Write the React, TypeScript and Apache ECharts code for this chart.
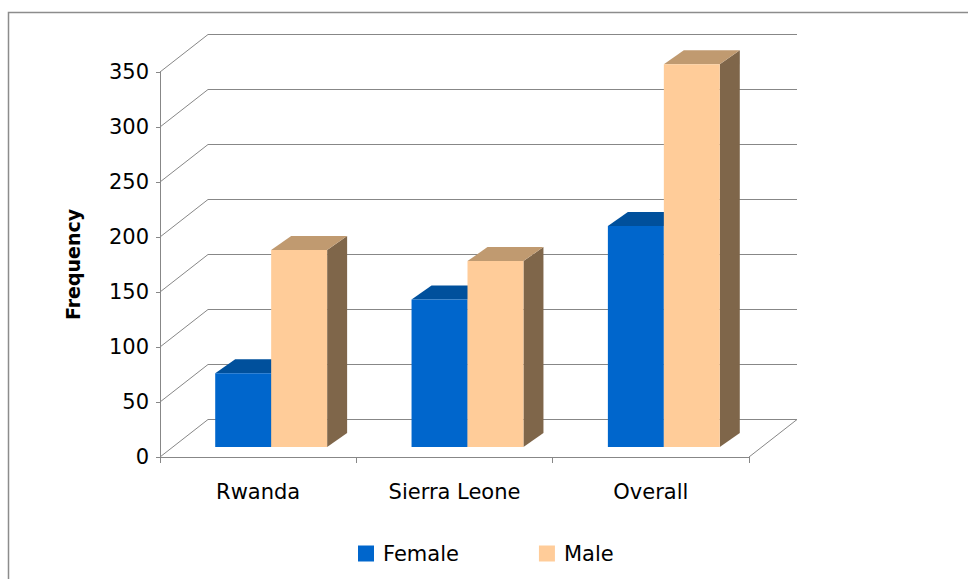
import React, { useEffect, useRef } from "react";
import * as echarts from "echarts";

const categories = ["Rwanda", "Sierra Leone", "Overall"];
const femaleValues = [67, 134, 201];
const maleValues = [179, 169, 348];
const seriesNames = ["Female", "Male"];
const yMin = 0;
const yMax = 350;
const yStep = 50;

// styling constants (pixels / colours)
const WALL_DX = 48;
const WALL_DY = -37.5;
const BAR_OFF_X = 13;
const BAR_OFF_Y = -10;
const BAR_DX = 20;
const BAR_DY = -14;
const BAR_FRACTION = 0.285;
const AXIS_COLOR = "#878787";
const FONT = "DejaVu Sans";

const femaleColors = { front: "#0066CC", top: "#00509C", side: "#003F7A" };
const maleColors = { front: "#FFCC99", top: "#C09A70", side: "#7F664A" };

function barRenderer(side: "left" | "right", colors: { front: string; top: string; side: string }) {
  return (params: any, api: any) => {
    const idx = api.value(0);
    const v = api.value(1);
    const base = api.coord([idx, 0]);
    const topPt = api.coord([idx, v]);
    const bw = api.size([1, 0])[0];
    const w = bw * BAR_FRACTION;
    const cx = base[0];
    const L = (side === "left" ? cx - w : cx) + BAR_OFF_X;
    const bottom = base[1] + BAR_OFF_Y;
    const top = topPt[1] + BAR_OFF_Y;
    return {
      type: "group",
      children: [
        {
          type: "polygon",
          shape: {
            points: [
              [L + w, top],
              [L + w + BAR_DX, top + BAR_DY],
              [L + w + BAR_DX, bottom + BAR_DY],
              [L + w, bottom],
            ],
          },
          style: { fill: colors.side },
        },
        {
          type: "polygon",
          shape: {
            points: [
              [L, top],
              [L + w, top],
              [L + w + BAR_DX, top + BAR_DY],
              [L + BAR_DX, top + BAR_DY],
            ],
          },
          style: { fill: colors.top },
        },
        {
          type: "rect",
          shape: { x: L, y: top, width: w, height: bottom - top },
          style: { fill: colors.front },
        },
      ],
    };
  };
}

export default function App() {
  const ref = useRef<HTMLDivElement>(null);
  useEffect(() => {
    document.body.style.margin = "0";
    if (!ref.current) return;
    const chart = echarts.init(ref.current, undefined, { renderer: "svg" });
    const option: any = {
      animation: false,
      backgroundColor: "#ffffff",
      textStyle: { fontFamily: FONT },
      graphic: [
        {
          type: "rect",
          shape: { x: 8.5, y: 12.5, width: 1200, height: 1200 },
          style: { fill: "none", stroke: "#8c8c8c", lineWidth: 1.5 },
          silent: true,
          z: 0,
        },
      ],
      grid: { left: 160, top: 72, width: 589, height: 385 },
      legend: {
        data: seriesNames,
        left: 358,
        top: 543,
        padding: 0,
        icon: "rect",
        itemWidth: 16,
        itemHeight: 16,
        itemGap: 80,
        textStyle: { fontFamily: FONT, fontSize: 21, color: "#000", padding: [0, 0, 0, 4] },
      },
      xAxis: {
        type: "category",
        data: categories,
        axisLine: { show: true, lineStyle: { color: AXIS_COLOR, width: 1 } },
        axisTick: { show: true, length: 6, lineStyle: { color: AXIS_COLOR } },
        axisLabel: { fontFamily: FONT, fontSize: 21, color: "#000", margin: 24 },
        splitLine: { show: false },
      },
      yAxis: {
        type: "value",
        min: yMin,
        max: yMax,
        interval: yStep,
        name: "Frequency",
        nameLocation: "middle",
        nameGap: 78,
        nameTextStyle: { fontFamily: FONT, fontSize: 19, fontWeight: "bold", color: "#000" },
        axisLine: { show: true, lineStyle: { color: AXIS_COLOR, width: 1 } },
        axisTick: { show: true, length: 4, lineStyle: { color: AXIS_COLOR } },
        axisLabel: { fontFamily: FONT, fontSize: 21, color: "#000", margin: 11 },
        splitLine: { show: false },
      },
      series: [
        {
          type: "custom",
          name: "walls",
          silent: true,
          z: 1,
          data: [[0, 0]],
          renderItem: (params: any, api: any) => {
            const cs = params.coordSys;
            const x0 = cs.x;
            const x1 = cs.x + cs.width;
            const children: any[] = [];
            for (let v = yMin; v <= yMax; v += yStep) {
              const y = api.coord([0, v])[1];
              children.push({
                type: "polyline",
                shape: {
                  points: [
                    [x0, y],
                    [x0 + WALL_DX, y + WALL_DY],
                    [x1 + WALL_DX, y + WALL_DY],
                  ],
                },
                style: { stroke: AXIS_COLOR, lineWidth: 1, fill: "none" },
              });
            }
            const y0 = api.coord([0, yMin])[1];
            children.push({
              type: "polyline",
              shape: { points: [[x1, y0], [x1 + WALL_DX, y0 + WALL_DY]] },
              style: { stroke: AXIS_COLOR, lineWidth: 1, fill: "none" },
            });
            return { type: "group", children };
          },
        },
        {
          type: "custom",
          name: seriesNames[0],
          z: 2,
          itemStyle: { color: femaleColors.front },
          data: femaleValues.map((v, i) => [i, v]),
          encode: { x: 0, y: 1 },
          renderItem: barRenderer("left", femaleColors),
        },
        {
          type: "custom",
          name: seriesNames[1],
          z: 3,
          itemStyle: { color: maleColors.front },
          data: maleValues.map((v, i) => [i, v]),
          encode: { x: 0, y: 1 },
          renderItem: barRenderer("right", maleColors),
        },
      ],
    };
    chart.setOption(option);
    return () => chart.dispose();
  }, []);
  return <div ref={ref} style={{ width: 968, height: 579 }} />;
}
